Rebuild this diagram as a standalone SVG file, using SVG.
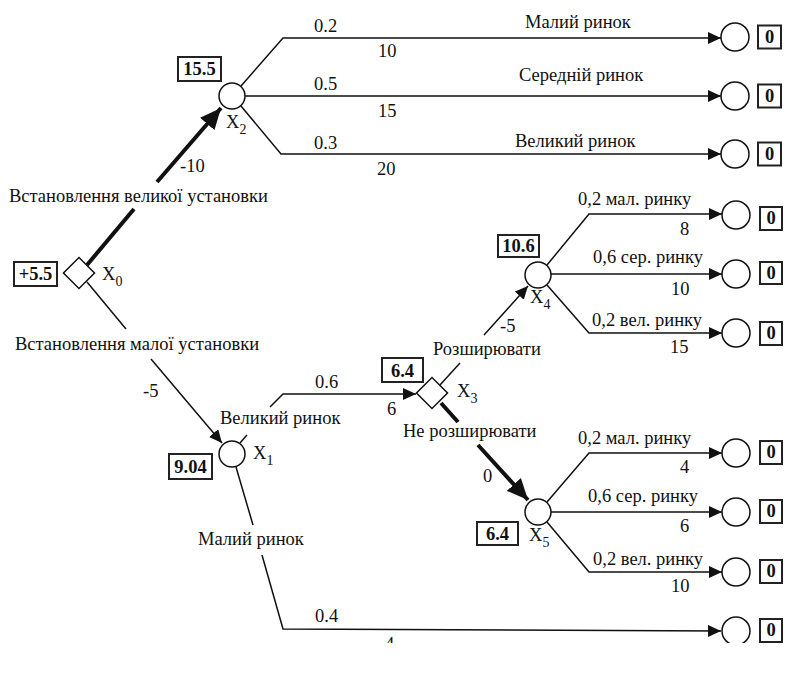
<svg xmlns="http://www.w3.org/2000/svg" width="793" height="676" viewBox="0 0 793 676">
<style>
text{font-family:"Liberation Serif","Times New Roman",serif;fill:#111}
.t{font-size:18.5px}
.s{font-size:18.5px}
.v{font-size:18.5px;font-weight:bold;text-anchor:middle}
.sub{font-size:14px}
.ln{fill:none;stroke:#111;stroke-width:1.5}
.th{fill:none;stroke:#111;stroke-width:4}
.box{fill:#fff;stroke:#222;stroke-width:2}
.nd{fill:#fff;stroke:#111;stroke-width:1.5}
</style>
<defs>
<marker id="a" viewBox="0 0 13 12" refX="13" refY="6" markerWidth="13" markerHeight="12" markerUnits="userSpaceOnUse" orient="auto"><path d="M0,0L13,6L0,12z" fill="#111"/></marker>
<marker id="A" viewBox="0 0 21 19" refX="21" refY="9.5" markerWidth="21" markerHeight="19" markerUnits="userSpaceOnUse" orient="auto"><path d="M0,0L21,9.5L0,19z" fill="#111"/></marker>
<clipPath id="cp"><rect x="0" y="0" width="793" height="643"/></clipPath>
</defs>
<rect width="793" height="676" fill="#fff"/>
<g clip-path="url(#cp)" font-family="Liberation Serif, serif">
<g id="connectors">
<path class="th" d="M87,265L134,209M157,182L221,108" marker-end="url(#A)"/>
<path class="ln" d="M87,282L126,329M151,359L222,443" marker-end="url(#a)"/>
<path class="ln" d="M241,86L283,38L721,38" marker-end="url(#a)"/>
<path class="ln" d="M245,96L721,96" marker-end="url(#a)"/>
<path class="ln" d="M241,106L281,154L721,154" marker-end="url(#a)"/>
<path class="ln" d="M240,443L247,435M270,407L283,394L416,394" marker-end="url(#a)"/>
<path class="ln" d="M236,467L253,525M262,555L283,629L721,631" marker-end="url(#a)"/>
<path class="ln" d="M440,385L460,363M484,335L528,286" marker-end="url(#a)"/>
<path class="th" d="M441,403L458,422M478,445L528,500" marker-end="url(#A)"/>
<path class="ln" d="M547,265L589,214L722,214" marker-end="url(#a)"/>
<path class="ln" d="M551,274L722,274" marker-end="url(#a)"/>
<path class="ln" d="M547,285L589,333L722,333" marker-end="url(#a)"/>
<path class="ln" d="M547,502L589,453L722,453" marker-end="url(#a)"/>
<path class="ln" d="M551,512L722,512" marker-end="url(#a)"/>
<path class="ln" d="M547,522L589,572L722,572" marker-end="url(#a)"/>
</g>
<g id="x0">
<rect class="nd" x="68" y="262" width="22" height="22" transform="rotate(45 79 273)"/>
<rect class="box" x="14" y="262" width="43" height="24"/>
<text class="v" x="35.5" y="280">+5.5</text>
<text class="t" x="102" y="280">X<tspan class="sub" dy="6">0</tspan></text>
</g>
<g id="x2">
<circle class="nd" cx="232" cy="96" r="13"/>
<rect class="box" x="178" y="57" width="43" height="24"/>
<text class="v" x="199.5" y="75">15.5</text>
<text class="t" x="226" y="128">X<tspan class="sub" dy="6">2</tspan></text>
</g>
<g id="x1">
<circle class="nd" cx="232" cy="454" r="13"/>
<rect class="box" x="169" y="454" width="43" height="25"/>
<text class="v" x="190.5" y="473">9.04</text>
<text class="t" x="253" y="459">X<tspan class="sub" dy="6">1</tspan></text>
</g>
<g id="x3">
<rect class="nd" x="421" y="382" width="22" height="22" transform="rotate(45 432 393)"/>
<rect class="box" x="382" y="358" width="41" height="24"/>
<text class="v" x="402.5" y="377">6.4</text>
<text class="t" x="457" y="397">X<tspan class="sub" dy="6">3</tspan></text>
</g>
<g id="x4">
<circle class="nd" cx="538" cy="275" r="13"/>
<rect class="box" x="498" y="235" width="41" height="22"/>
<text class="v" x="518.5" y="252">10.6</text>
<text class="t" x="530" y="303">X<tspan class="sub" dy="6">4</tspan></text>
</g>
<g id="x5">
<circle class="nd" cx="538" cy="512" r="13"/>
<rect class="box" x="477" y="522" width="41" height="23"/>
<text class="v" x="497.5" y="540">6.4</text>
<text class="t" x="529" y="541">X<tspan class="sub" dy="6">5</tspan></text>
</g>
<g id="terminals">
<circle class="nd" cx="735" cy="37" r="14"/><rect class="box" x="758" y="25.5" width="23" height="23"/><text class="v" x="769.5" y="43">0</text>
<circle class="nd" cx="735" cy="96" r="14"/><rect class="box" x="758" y="84.5" width="23" height="23"/><text class="v" x="769.5" y="102">0</text>
<circle class="nd" cx="735" cy="154" r="14"/><rect class="box" x="758" y="142.5" width="23" height="23"/><text class="v" x="769.5" y="160">0</text>
<circle class="nd" cx="736" cy="215" r="14"/><rect class="box" x="760" y="207" width="22" height="23"/><text class="v" x="771" y="224">0</text>
<circle class="nd" cx="736" cy="274" r="14"/><rect class="box" x="760" y="262" width="22" height="22"/><text class="v" x="771" y="279">0</text>
<circle class="nd" cx="736" cy="333" r="14"/><rect class="box" x="760" y="322" width="22" height="23"/><text class="v" x="771" y="339">0</text>
<circle class="nd" cx="736" cy="453" r="14"/><rect class="box" x="760" y="441" width="22" height="23"/><text class="v" x="771" y="458">0</text>
<circle class="nd" cx="736" cy="512" r="14"/><rect class="box" x="760" y="500" width="22" height="23"/><text class="v" x="771" y="517">0</text>
<circle class="nd" cx="736" cy="572" r="14"/><rect class="box" x="760" y="560" width="22" height="23"/><text class="v" x="771" y="577">0</text>
<circle class="nd" cx="736" cy="631" r="14"/><rect class="box" x="760" y="619" width="22" height="23"/><text class="v" x="771" y="636">0</text>
</g>
<g id="labels">
<text class="t" x="9" y="202">Встановлення великої установки</text>
<text class="t" x="15" y="350">Встановлення малої установки</text>
<text class="t" x="180" y="172">-10</text>
<text class="t" x="143" y="397">-5</text>
<text class="t" x="314" y="32">0.2</text>
<text class="t" x="378" y="57">10</text>
<text class="t" x="314" y="90">0.5</text>
<text class="t" x="378" y="117">15</text>
<text class="t" x="314" y="149">0.3</text>
<text class="t" x="377" y="175">20</text>
<text class="s" x="525" y="28">Малий ринок</text>
<text class="s" x="519" y="81">Середній ринок</text>
<text class="s" x="515" y="147">Великий ринок</text>
<text class="t" x="315" y="388">0.6</text>
<text class="t" x="387" y="415">6</text>
<text class="s" x="220" y="424">Великий ринок</text>
<text class="s" x="198" y="545">Малий ринок</text>
<text class="t" x="315" y="622">0.4</text>
<text class="t" x="385" y="650">4</text>
<text class="s" x="433" y="355">Розширювати</text>
<text class="t" x="500" y="332">-5</text>
<text class="s" x="403" y="437">Не розширювати</text>
<text class="t" x="483" y="482">0</text>
<text class="s" x="578" y="205">0,2 мал. ринку</text>
<text class="t" x="680" y="235">8</text>
<text class="s" x="593" y="263">0,6 сер. ринку</text>
<text class="t" x="671" y="295">10</text>
<text class="s" x="592" y="326">0,2 вел. ринку</text>
<text class="t" x="670" y="353">15</text>
<text class="s" x="578" y="444">0,2 мал. ринку</text>
<text class="t" x="680" y="473">4</text>
<text class="s" x="588" y="502">0,6 сер. ринку</text>
<text class="t" x="680" y="532">6</text>
<text class="s" x="593" y="565">0,2 вел. ринку</text>
<text class="t" x="671" y="592">10</text>
</g>
</g>
</svg>
